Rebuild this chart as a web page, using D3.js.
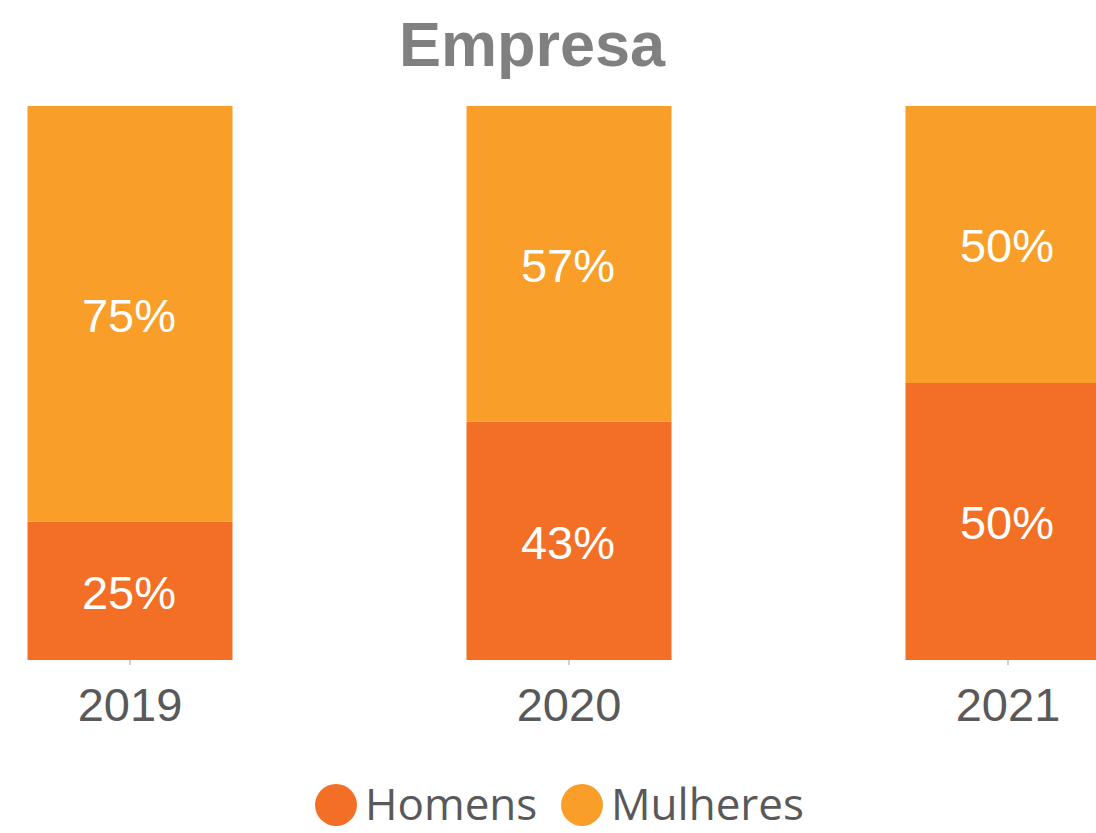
<!DOCTYPE html>
<html>
<head>
<meta charset="utf-8">
<script src="https://cdn.jsdelivr.net/npm/d3@7"></script>
<style>
  html, body { margin: 0; padding: 0; background: #fff; }
  svg { display: block; }
</style>
</head>
<body>
<svg width="1096" height="833"></svg>
<script>
"use strict";

var years = ["2019", "2020", "2021"];
var homens = [0.25, 0.43, 0.50];
var mulheres = [0.75, 0.57, 0.50];
var seriesNames = ["Homens", "Mulheres"];
var seriesColors = ["#F36F26", "#F99E28"];

function dataViz(){

	var svg = d3.select("svg");

	var rows = years.map(function(y, i){
		return {year: y, Homens: homens[i], Mulheres: mulheres[i]};
	});

	var stacked = d3.stack().keys(seriesNames)(rows);

	var xScale = d3.scaleBand()
		.domain(years)
		.range([-89.5, 1227.5])
		.paddingInner(234 / 439)
		.paddingOuter(117 / 439);

	var yScale = d3.scaleLinear().domain([0, 1]).range([660, 106]);

	var color = d3.scaleOrdinal().domain(seriesNames).range(seriesColors);

	// title
	svg.append("text")
		.attr("x", 532)
		.attr("y", 66)
		.attr("text-anchor", "middle")
		.style("font-family", "'Liberation Sans', Arial, sans-serif")
		.style("font-weight", "bold")
		.style("font-size", "63px")
		.style("fill", "#808080")
		.text("Empresa");

	// bars
	var groups = svg.selectAll("g.serie")
		.data(stacked)
		.enter()
		.append("g")
		.attr("class", "serie")
		.style("fill", function(d){ return color(d.key); });

	groups.selectAll("rect")
		.data(function(d){ return d; })
		.enter()
		.append("rect")
		.attr("x", function(d){ return xScale(d.data.year); })
		.attr("width", xScale.bandwidth())
		.attr("y", function(d){ return yScale(d[1]); })
		.attr("height", function(d){ return yScale(d[0]) - yScale(d[1]); });

	groups.selectAll("text")
		.data(function(d){ return d; })
		.enter()
		.append("text")
		.attr("x", function(d){ return xScale(d.data.year) + xScale.bandwidth() / 2 - 1; })
		.attr("y", function(d){ return (yScale(d[0]) + yScale(d[1])) / 2; })
		.attr("dy", "0.38em")
		.attr("text-anchor", "middle")
		.style("font-family", "'Liberation Sans', Arial, sans-serif")
		.style("font-size", "47px")
		.style("fill", "#ffffff")
		.text(function(d){ return Math.round((d[1] - d[0]) * 100) + "%"; });

	// x axis
	var xAxis = svg.append("g")
		.attr("id", "xAxisG")
		.attr("transform", "translate(0,660)")
		.call(d3.axisBottom(xScale).tickSize(5).tickPadding(23));

	xAxis.select(".domain").remove();
	xAxis.selectAll(".tick line")
		.attr("stroke", "#d0d0d0")
		.attr("stroke-width", 2);
	xAxis.selectAll(".tick text")
		.style("font-family", "'Liberation Sans', Arial, sans-serif")
		.style("font-size", "47px")
		.style("fill", "#595959");

	// legend
	var legendX = [336, 582];
	var legend = svg.selectAll("g.legend")
		.data(seriesNames)
		.enter()
		.append("g")
		.attr("class", "legend")
		.attr("transform", function(d, i){ return "translate(" + legendX[i] + ",805)"; });

	legend.append("circle")
		.attr("r", 21)
		.style("fill", function(d){ return color(d); });

	legend.append("text")
		.attr("x", 29)
		.attr("y", 15)
		.style("font-family", "'Open Sans', 'Noto Sans', sans-serif")
		.style("font-size", "44px")
		.style("fill", "#595959")
		.text(function(d){ return d; });
}

dataViz();
</script>
</body>
</html>
